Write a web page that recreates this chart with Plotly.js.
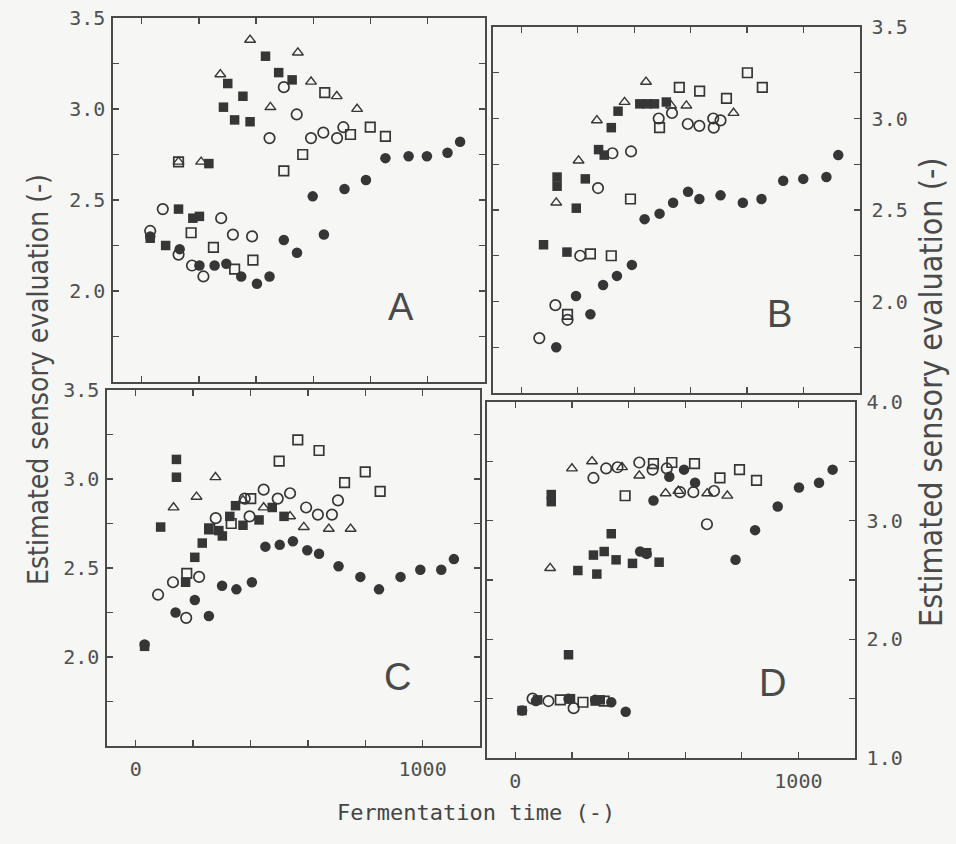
<!DOCTYPE html>
<html>
<head>
<meta charset="utf-8">
<script src="https://cdn.plot.ly/plotly-3.0.1.min.js"></script>
<style>
  html, body { margin: 0; padding: 0; background: #f6f6f4; }
  #chart { width: 956px; height: 844px; }
</style>
</head>
<body>
<div id="chart"></div>
<script>
// ---------------- DATA ----------------
// Tick labels
const xTickVals = [0, 200, 400, 600, 800, 1000];
const xTickText = ['0', '', '', '', '', '1000'];
const xTickBlank = ['', '', '', '', '', ''];
const yTickValsTop = [1.5, 1.75, 2.0, 2.25, 2.5, 2.75, 3.0, 3.25, 3.5];
const yTickTextTop = ['', '', '2.0', '', '2.5', '', '3.0', '', '3.5'];
const yTickValsD = [1.0, 1.5, 2.0, 2.5, 3.0, 3.5, 4.0];
const yTickTextD = ['1.0', '', '2.0', '', '3.0', '', '4.0'];
const panelLetters = ['A', 'B', 'C', 'D'];

// Panel A
const A_fc_x = [30, 133, 202, 255, 296, 348, 403, 447, 497, 543, 598, 637, 709, 784, 852, 933, 997, 1069, 1113];
const A_fc_y = [2.30, 2.23, 2.14, 2.14, 2.15, 2.08, 2.04, 2.08, 2.28, 2.21, 2.52, 2.31, 2.56, 2.61, 2.73, 2.74, 2.74, 2.76, 2.82];
const A_fs_x = [30, 84, 129, 179, 202, 235, 286, 301, 325, 354, 379, 433, 479, 526];
const A_fs_y = [2.29, 2.25, 2.45, 2.40, 2.41, 2.70, 3.01, 3.14, 2.94, 3.07, 2.93, 3.29, 3.20, 3.16];
const A_os_x = [129, 173, 251, 325, 389, 497, 563, 640, 730, 799, 852];
const A_os_y = [2.71, 2.32, 2.24, 2.12, 2.17, 2.66, 2.75, 3.09, 2.86, 2.90, 2.85];
const A_oc_x = [30, 74, 129, 176, 216, 278, 319, 386, 447, 497, 542, 592, 635, 683, 705];
const A_oc_y = [2.33, 2.45, 2.20, 2.14, 2.08, 2.40, 2.31, 2.30, 2.84, 3.12, 2.97, 2.84, 2.87, 2.84, 2.90];
const A_ot_x = [129, 208, 275, 379, 450, 546, 592, 682, 753];
const A_ot_y = [2.71, 2.71, 3.19, 3.38, 3.01, 3.31, 3.15, 3.07, 3.00];

// Panel B
const B_fc_x = [124, 194, 245, 290, 339, 392, 437, 490, 538, 591, 631, 706, 785, 851, 928, 999, 1081, 1123];
const B_fc_y = [1.75, 2.03, 1.93, 2.09, 2.14, 2.20, 2.45, 2.48, 2.54, 2.60, 2.56, 2.58, 2.54, 2.56, 2.66, 2.67, 2.68, 2.80];
const B_fs_x = [79, 127, 127, 162, 195, 227, 274, 294, 319, 343, 420, 446, 472, 514];
const B_fs_y = [2.31, 2.68, 2.63, 2.27, 2.51, 2.67, 2.83, 2.80, 2.95, 3.04, 3.08, 3.08, 3.08, 3.09];
const B_os_x = [164, 245, 319, 387, 490, 560, 632, 727, 801, 854];
const B_os_y = [1.93, 2.26, 2.25, 2.56, 2.95, 3.17, 3.15, 3.11, 3.25, 3.17];
const B_oc_x = [64, 121, 164, 209, 272, 323, 389, 487, 534, 590, 631, 680, 682, 706];
const B_oc_y = [1.80, 1.98, 1.90, 2.25, 2.62, 2.81, 2.82, 3.00, 3.03, 2.97, 2.96, 3.00, 2.95, 2.99];
const B_ot_x = [124, 203, 268, 366, 442, 531, 585, 752];
const B_ot_y = [2.54, 2.77, 2.99, 3.09, 3.20, 3.07, 3.07, 3.03];

// Panel C
const C_fc_x = [31, 139, 206, 255, 301, 351, 405, 452, 502, 548, 598, 639, 707, 783, 848, 923, 992, 1065, 1109];
const C_fc_y = [2.07, 2.25, 2.32, 2.23, 2.40, 2.38, 2.42, 2.62, 2.63, 2.65, 2.60, 2.58, 2.51, 2.45, 2.38, 2.45, 2.49, 2.49, 2.55];
const C_fs_x = [31, 87, 142, 142, 174, 206, 232, 255, 290, 302, 328, 348, 374, 430, 476, 517];
const C_fs_y = [2.06, 2.73, 3.11, 3.01, 2.42, 2.56, 2.64, 2.72, 2.71, 2.68, 2.79, 2.85, 2.74, 2.77, 2.84, 2.79];
const C_os_x = [178, 258, 333, 401, 500, 565, 639, 728, 800, 852];
const C_os_y = [2.47, 2.72, 2.75, 2.89, 3.10, 3.22, 3.16, 2.98, 3.04, 2.93];
const C_oc_x = [78, 130, 176, 221, 279, 380, 397, 446, 495, 538, 594, 635, 684, 705];
const C_oc_y = [2.35, 2.42, 2.22, 2.45, 2.78, 2.89, 2.79, 2.94, 2.89, 2.92, 2.84, 2.80, 2.80, 2.88];
const C_ot_x = [132, 212, 278, 374, 446, 538, 586, 673, 749];
const C_ot_y = [2.84, 2.90, 3.01, 2.88, 2.84, 2.79, 2.73, 2.72, 2.72];

// Panel D
const D_fc_x = [24, 73, 188, 282, 339, 390, 441, 464, 488, 544, 596, 635, 778, 847, 927, 1002, 1073, 1121];
const D_fc_y = [1.40, 1.48, 1.50, 1.49, 1.47, 1.39, 2.74, 2.72, 3.17, 3.37, 3.43, 3.32, 2.67, 2.92, 3.12, 3.28, 3.32, 3.43];
const D_fs_x = [24, 79, 127, 127, 188, 195, 221, 276, 288, 314, 339, 356, 414, 464, 508, 282, 300];
const D_fs_y = [1.40, 1.49, 3.22, 3.16, 1.87, 1.50, 2.58, 2.71, 2.55, 2.74, 2.89, 2.67, 2.64, 2.73, 2.65, 1.48, 1.49];
const D_os_x = [159, 239, 314, 388, 488, 553, 633, 723, 792, 852];
const D_os_y = [1.49, 1.47, 1.48, 3.21, 3.48, 3.49, 3.48, 3.36, 3.43, 3.34];
const D_oc_x = [61, 117, 206, 276, 321, 361, 438, 485, 535, 582, 629, 702, 677];
const D_oc_y = [1.50, 1.48, 1.42, 3.36, 3.44, 3.45, 3.49, 3.43, 3.44, 3.24, 3.24, 3.25, 2.97];
const D_ot_x = [123, 200, 271, 377, 438, 531, 576, 678, 749];
const D_ot_y = [2.60, 3.44, 3.50, 3.45, 3.38, 3.23, 3.25, 3.23, 3.21];

// ---------------- STYLE ----------------
const INK = '#363636';
const AX = '#4a4a4a';
const BG = '#f6f6f4';

function styles() {
  return {
    fc: {symbol: 'circle', size: 10.5, color: INK, line: {width: 0}},
    oc: {symbol: 'circle-open', size: 10.5, color: INK, line: {width: 1.7, color: INK}},
    fs: {symbol: 'square', size: 9.5, color: INK, line: {width: 0}},
    os: {symbol: 'square-open', size: 9.5, color: INK, line: {width: 1.7, color: INK}},
    ot: {symbol: 'triangle-up-open', size: 9.5, color: INK, line: {width: 1.4, color: INK}}
  };
}

const panels = [
  {xa: 'x', ya: 'y', d: {fc: [A_fc_x, A_fc_y], fs: [A_fs_x, A_fs_y], os: [A_os_x, A_os_y], oc: [A_oc_x, A_oc_y], ot: [A_ot_x, A_ot_y]}},
  {xa: 'x2', ya: 'y2', d: {fc: [B_fc_x, B_fc_y], fs: [B_fs_x, B_fs_y], os: [B_os_x, B_os_y], oc: [B_oc_x, B_oc_y], ot: [B_ot_x, B_ot_y]}},
  {xa: 'x3', ya: 'y3', d: {fc: [C_fc_x, C_fc_y], fs: [C_fs_x, C_fs_y], os: [C_os_x, C_os_y], oc: [C_oc_x, C_oc_y], ot: [C_ot_x, C_ot_y]}},
  {xa: 'x4', ya: 'y4', d: {fc: [D_fc_x, D_fc_y], fs: [D_fs_x, D_fs_y], os: [D_os_x, D_os_y], oc: [D_oc_x, D_oc_y], ot: [D_ot_x, D_ot_y]}}
];

const traces = [];
const order = ['fs', 'fc', 'os', 'oc', 'ot'];
panels.forEach(p => {
  const st = styles();
  order.forEach(k => {
    traces.push({
      type: 'scatter', mode: 'markers',
      x: p.d[k][0], y: p.d[k][1],
      xaxis: p.xa, yaxis: p.ya,
      marker: st[k], showlegend: false, hoverinfo: 'x+y', cliponaxis: false
    });
  });
});

const W = 956, H = 844;
const fx = px => px / W;
const fy = py => 1 - py / H;

const tickFont = {family: 'DejaVu Sans Mono, monospace', size: 20, color: '#505050'};
const xTickFont = {family: 'DejaVu Sans Mono, monospace', size: 20, color: '#505050'};

function xAxis(d0, d1, anchor, labels) {
  return {
    domain: [fx(d0), fx(d1)], anchor: anchor, range: [-100, 1200],
    tickmode: 'array', tickvals: xTickVals, ticktext: labels ? xTickText : xTickBlank,
    ticks: 'inside', ticklen: 6, tickwidth: 1.3, tickcolor: AX,
    showline: true, linecolor: AX, linewidth: 1.6, mirror: 'ticks',
    showgrid: false, zeroline: false, tickfont: xTickFont, fixedrange: true,
    ticklabelstandoff: 4
  };
}
function yAxis(p0, p1, anchor, range, vals, text, side) {
  return {
    domain: [fy(p1), fy(p0)], anchor: anchor, range: range, side: side,
    tickmode: 'array', tickvals: vals, ticktext: text,
    ticks: 'inside', ticklen: 6, tickwidth: 1.3, tickcolor: AX,
    showline: true, linecolor: AX, linewidth: 1.6, mirror: 'ticks',
    showgrid: false, zeroline: false, tickfont: tickFont, fixedrange: true,
    ticklabelstandoff: side === 'right' ? 6 : 2
  };
}

const letterFont = {family: 'Liberation Sans, Arial, sans-serif', size: 38, color: '#4a4a4a'};
const titleFamily = 'Liberation Sans Narrow, DejaVu Sans Condensed, Arial Narrow, sans-serif';
const annotations = [
  {xref: 'x', yref: 'y', x: 907, y: 1.91, text: panelLetters[0], showarrow: false, font: letterFont},
  {xref: 'x2', yref: 'y2', x: 915, y: 1.93, text: panelLetters[1], showarrow: false, font: letterFont},
  {xref: 'x3', yref: 'y3', x: 913, y: 1.89, text: panelLetters[2], showarrow: false, font: letterFont},
  {xref: 'x4', yref: 'y4', x: 910, y: 1.63, text: panelLetters[3], showarrow: false, font: letterFont},
  {xref: 'paper', yref: 'paper', x: fx(38), y: fy(380), text: 'Estimated sensory evaluation (-)', textangle: -90,
   showarrow: false, xanchor: 'center', yanchor: 'middle',
   font: {family: titleFamily, size: 28, color: '#4a4a4a'}},
  {xref: 'paper', yref: 'paper', x: fx(931), y: fy(392), text: 'Estimated sensory evaluation (-)', textangle: -90,
   showarrow: false, xanchor: 'center', yanchor: 'middle',
   font: {family: titleFamily, size: 32, color: '#4a4a4a'}},
  {xref: 'paper', yref: 'paper', x: fx(476), y: fy(812), text: 'Fermentation time (-)',
   showarrow: false, xanchor: 'center', yanchor: 'middle',
   font: {family: 'DejaVu Sans Mono, monospace', size: 22, color: '#454545'}}
];

const layout = {
  width: W, height: H,
  margin: {l: 0, r: 0, t: 0, b: 0, pad: 0},
  paper_bgcolor: BG, plot_bgcolor: BG,
  showlegend: false,
  xaxis: xAxis(113, 485, 'y', false),
  yaxis: yAxis(18, 382, 'x', [1.5, 3.5], yTickValsTop, yTickTextTop, 'left'),
  xaxis2: xAxis(493, 860, 'y2', false),
  yaxis2: yAxis(27, 393, 'x2', [1.5, 3.5], yTickValsTop, yTickTextTop, 'right'),
  xaxis3: xAxis(107, 480, 'y3', true),
  yaxis3: yAxis(390, 746, 'x3', [1.5, 3.5], yTickValsTop, yTickTextTop, 'left'),
  xaxis4: xAxis(487, 855, 'y4', true),
  yaxis4: yAxis(402, 758, 'x4', [1.0, 4.0], yTickValsD, yTickTextD, 'right'),
  annotations: annotations
};

Plotly.newPlot('chart', traces, layout, {displayModeBar: false, staticPlot: true});
</script>
</body>
</html>
